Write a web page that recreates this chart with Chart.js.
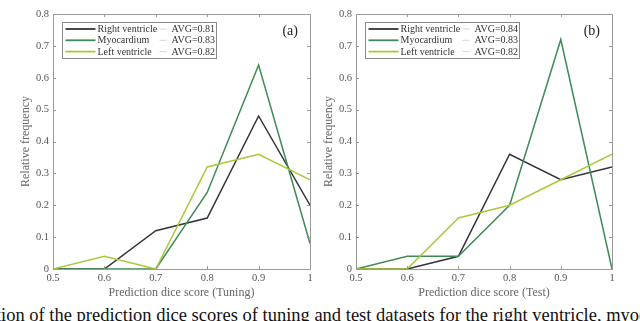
<!DOCTYPE html>
<html>
<head>
<meta charset="utf-8">
<script src="https://cdn.jsdelivr.net/npm/chart.js@4"></script>
<style>
  body { margin: 0; background: #fff; width: 640px; height: 321px; overflow: hidden; position: relative; }
  canvas { position: absolute; top: 0; }
  #cap { position: absolute; top: 305px; white-space: nowrap; font: 18.5px 'Liberation Serif', serif; color: #111; line-height: 21px; }
</style>
</head>
<body>
<canvas id="chartA" width="320" height="300" style="left:0"></canvas>
<canvas id="chartB" width="320" height="300" style="left:320px"></canvas>
<div id="cap">Distribution of the prediction dice scores of tuning and test datasets for the right ventricle, myocardium and left ventricle.</div>
<script>
// x positions of the histogram bins
const scores = [0.5, 0.6, 0.7, 0.8, 0.9, 1];
const yTicks = [0, 0.1, 0.2, 0.3, 0.4, 0.5, 0.6, 0.7, 0.8];
const xTicks = [0.5, 0.6, 0.7, 0.8, 0.9, 1];

const classNames = ['Right ventricle', 'Myocardium', 'Left ventricle'];
const classColors = ['#34333a', '#3f8a55', '#a9c93a'];

// tuning set
const tuneRV = [0, 0, 0.12, 0.16, 0.48, 0.20];
const tuneMyo = [0, 0, 0, 0.24, 0.64, 0.08];
const tuneLV = [0, 0.04, 0, 0.32, 0.36, 0.28];
const tuneAvg = ['AVG=0.81', 'AVG=0.83', 'AVG=0.82'];

// test set
const testRV = [0, 0, 0.04, 0.36, 0.28, 0.32];
const testMyo = [0, 0.04, 0.04, 0.20, 0.72, 0];
const testLV = [0, 0, 0.16, 0.20, 0.28, 0.36];
const testAvg = ['AVG=0.84', 'AVG=0.83', 'AVG=0.82'];

const serif = "'Liberation Serif', 'DejaVu Serif', serif";

// shift the caption so only "ion of the ..." shows, like the cropped figure
(function () {
  const c = document.createElement('canvas').getContext('2d');
  c.font = "18.5px 'Liberation Serif'";
  document.getElementById('cap').style.left = (1 - c.measureText('Distribut').width) + 'px';
})();

// MATLAB style box with inward ticks on all four sides
const framePlugin = {
  id: 'frame',
  afterDatasetsDraw(chart) {
    const { ctx, chartArea: a, scales } = chart;
    ctx.save();
    ctx.strokeStyle = '#9a9a9a';
    ctx.lineWidth = 1;
    ctx.strokeRect(Math.round(a.left) + 0.5, Math.round(a.top) + 0.5, Math.round(a.width), Math.round(a.height));
    ctx.beginPath();
    xTicks.forEach(v => {
      const x = Math.round(scales.x.getPixelForValue(v)) + 0.5;
      ctx.moveTo(x, a.bottom); ctx.lineTo(x, a.bottom - 3);
      ctx.moveTo(x, a.top); ctx.lineTo(x, a.top + 3);
    });
    yTicks.forEach(v => {
      const y = Math.round(scales.y.getPixelForValue(v)) + 0.5;
      ctx.moveTo(a.left, y); ctx.lineTo(a.left + 3, y);
      ctx.moveTo(a.right, y); ctx.lineTo(a.right - 3, y);
    });
    ctx.stroke();
    ctx.restore();
  },
  afterDraw(chart) {
    const { ctx, chartArea: a } = chart;
    const o = chart.options.plugins.frame;
    ctx.save();
    // panel letter
    ctx.font = '14px ' + serif;
    ctx.fillStyle = '#222';
    ctx.textAlign = 'right';
    ctx.textBaseline = 'middle';
    ctx.fillText(o.panel, a.right - 12, a.top + 17);
    // legend box
    const bx = Math.round(a.left) + 9.5, by = Math.round(a.top) + 8.5;
    ctx.fillStyle = '#fff';
    ctx.fillRect(bx, by, 154, 36);
    ctx.strokeStyle = '#8a8a8a';
    ctx.lineWidth = 1;
    ctx.strokeRect(bx, by, 154, 36);
    ctx.font = '10px ' + serif;
    ctx.textAlign = 'left';
    classNames.forEach((name, i) => {
      const y = by + 6.5 + i * 11.3;
      ctx.strokeStyle = classColors[i];
      ctx.lineWidth = 1.8;
      ctx.beginPath(); ctx.moveTo(bx + 3, y); ctx.lineTo(bx + 33, y); ctx.stroke();
      ctx.fillStyle = '#333';
      ctx.fillText(name, bx + 35, y + 0.5);
      ctx.strokeStyle = '#d6d6d6';
      ctx.lineWidth = 1;
      ctx.beginPath(); ctx.moveTo(bx + 97, y); ctx.lineTo(bx + 104, y); ctx.stroke();
      ctx.fillText(o.avg[i], bx + 109, y + 0.5);
    });
    ctx.restore();
  }
};

function makeChart(id, series, avg, panel, xTitle, padLeft, padRight) {
  const datasets = series.map((vals, i) => ({
    label: classNames[i],
    data: scores.map((s, j) => ({ x: s, y: vals[j] })),
    borderColor: classColors[i],
    borderWidth: 1.5,
    pointRadius: 0,
    tension: 0,
    order: 2 - i
  }));
  return new Chart(document.getElementById(id), {
    type: 'line',
    data: { datasets },
    plugins: [framePlugin],
    options: {
      responsive: false,
      animation: false,
      layout: { padding: { left: padLeft, right: padRight, top: 14, bottom: 0 } },
      plugins: {
        legend: { display: false },
        tooltip: { enabled: false },
        frame: { panel, avg }
      },
      scales: {
        x: {
          type: 'linear', min: 0.5, max: 1,
          afterBuildTicks: s => { s.ticks = xTicks.map(v => ({ value: v })); },
          afterFit: s => { s.height = 31; },
          grid: { display: false, drawTicks: false },
          border: { display: false },
          ticks: {
            padding: 3, color: '#555', font: { family: serif, size: 10.5 },
            maxRotation: 0, callback: v => String(+v.toFixed(1))
          },
          title: { display: true, text: xTitle, color: '#666', font: { family: serif, size: 12 }, padding: { top: 0, bottom: 0 } }
        },
        y: {
          min: 0, max: 0.8,
          afterBuildTicks: s => { s.ticks = yTicks.map(v => ({ value: v })); },
          afterFit: s => { s.width = 36; },
          grid: { display: false, drawTicks: false },
          border: { display: false },
          ticks: {
            padding: 4, color: '#555', font: { family: serif, size: 10.5 },
            callback: v => String(+v.toFixed(1))
          },
          title: { display: true, text: 'Relative frequency', color: '#666', font: { family: serif, size: 12 }, padding: { top: 2, bottom: 0 } }
        }
      }
    }
  });
}

makeChart('chartA', [tuneRV, tuneMyo, tuneLV], tuneAvg, '(a)', 'Prediction dice score (Tuning)', 17, 10);
makeChart('chartB', [testRV, testMyo, testLV], testAvg, '(b)', 'Prediction dice score (Test)', 0, 28);
</script>
</body>
</html>
